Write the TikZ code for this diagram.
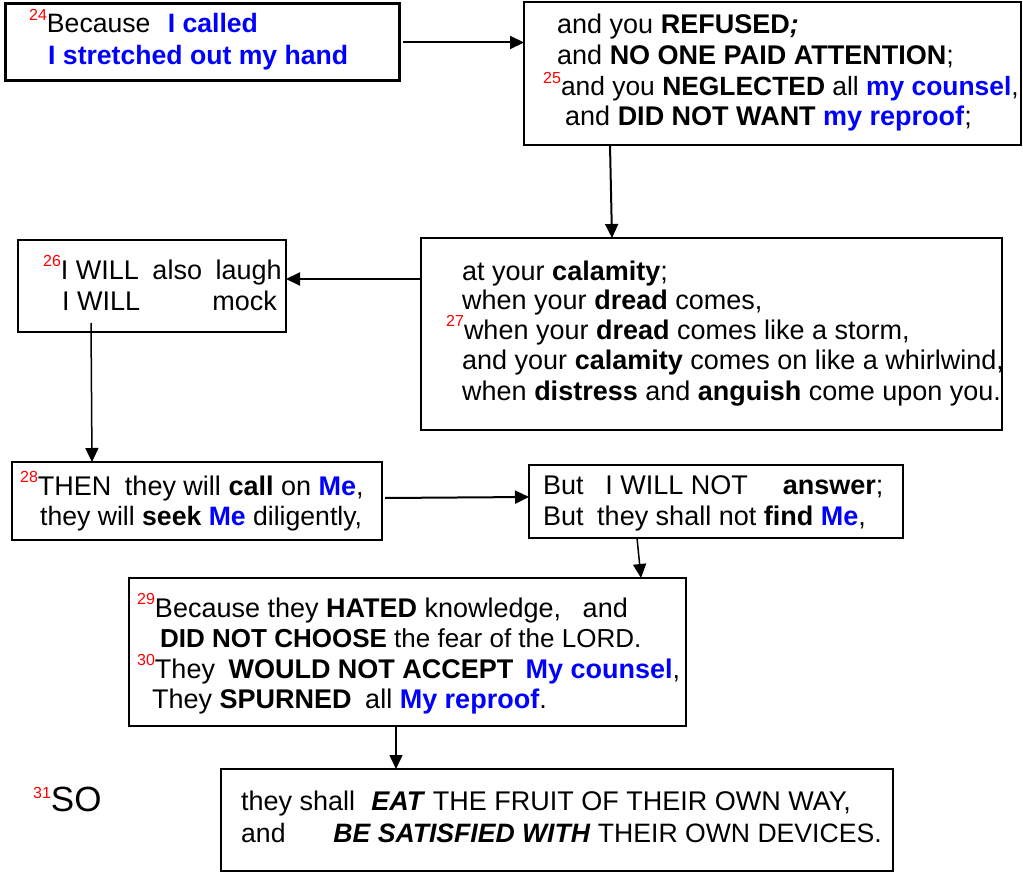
\documentclass[tikz,border=0pt]{standalone}
\usepackage{fontspec}
\setmainfont{Liberation Sans}
\usetikzlibrary{arrows.meta}
\definecolor{vblue}{RGB}{0,0,255}
\definecolor{vred}{RGB}{255,0,0}
\newcommand{\vn}[1]{{\color{vred}\raisebox{0.48em}{\fontsize{16}{16}\selectfont #1}}}
\newcommand{\bl}[1]{{\color{vblue}\bfseries #1}}
\newcommand{\fs}[1]{\fontsize{#1}{31}\selectfont}
\tikzset{
  box/.style={draw=black, line width=2pt, fill=white, inner sep=0pt, outer sep=0pt},
  txt/.style={anchor=base west, inner sep=0pt, font=\fontsize{27}{31}\selectfont},
  arr/.style={line width=2pt, -{Triangle[length=14pt,width=13pt]}}
}
\begin{document}
\begin{tikzpicture}[x=1pt,y=-1pt]
\useasboundingbox (0,0) rectangle (1023,872);
% boxes
\node[box, line width=3pt, minimum width=394, minimum height=77] (b1) at (202,42.5) {};
\node[box, minimum width=497, minimum height=143] (b2) at (772.5,73.5) {};
\node[box, minimum width=581, minimum height=192] (b3) at (711.5,334) {};
\node[box, minimum width=268, minimum height=92] (b4) at (152,286) {};
\node[box, minimum width=370, minimum height=78] (b5) at (197,501) {};
\node[box, minimum width=374, minimum height=73] (b6) at (716,501.5) {};
\node[box, minimum width=557, minimum height=148] (b7) at (407.5,652) {};
\node[box, minimum width=672, minimum height=102] (b8) at (557,820) {};
% box 1
\node[txt] (l1a) at (29,33) {\vn{24}\fs{26.6}Because\hspace{0.65em}\bl{I called}};
\node[txt] (l1b) at (48,65) {\fs{26.6}\bl{I stretched out my hand}};
% box 2
\node[txt] (l2a) at (557,34) {and you \textbf{REFUSED\textit{;}}};
\node[txt] (l2b) at (557,65) {and \textbf{NO ONE PAID ATTENTION};};
\node[txt] (l2c) at (543,96) {\vn{25}\fs{26.4}and you \textbf{NEGLECTED} all \bl{my counsel},};
\node[txt] (l2d) at (565,126) {and \textbf{DID NOT WANT} \bl{my reproof};};
% box 3
\node[txt] (l3a) at (462,280) {at your \textbf{calamity};};
\node[txt] (l3b) at (462,309) {when your \textbf{dread} comes,};
\node[txt] (l3c) at (446,339) {\vn{27}when your \textbf{dread} comes like a storm,};
\node[txt] (l3d) at (462,369) {and your \textbf{calamity} comes on like a whirlwind,};
\node[txt] (l3e) at (462,400) {when \textbf{distress} and \textbf{anguish} come upon you.};
% box 4
\node[txt] (l4a) at (43,279) {\vn{26}I WILL\hspace{0.5em}also\hspace{0.5em}laugh};
\node[txt] (l4b) at (62,310) {I WILL};
\node[txt, anchor=base east] (l4c) at (277,310) {mock};
% box 5
\node[txt] (l5a) at (20,495) {\vn{28}THEN\hspace{0.5em}they will \textbf{call} on \bl{Me},};
\node[txt] (l5b) at (40,525) {\fs{26.6}they will \textbf{seek} \bl{Me} diligently,};
% box 6
\node[txt] (l6a) at (543,494) {But\hspace{0.8em}I WILL NOT\hspace{1.3em}\textbf{answer};};
\node[txt] (l6b) at (543,525) {But\hspace{0.5em}they shall not \textbf{find} \bl{Me},};
% box 7
\node[txt] (l7a) at (137,617) {\vn{29}Because they \textbf{HATED} knowledge,\hspace{0.8em}and};
\node[txt] (l7b) at (160,647) {\fs{26}\textbf{DID NOT CHOOSE} the fear of the LORD.};
\node[txt] (l7c) at (137,678) {\vn{30}They\hspace{0.5em}\textbf{WOULD NOT ACCEPT}\hspace{0.45em}\bl{My counsel},};
\node[txt] (l7d) at (152,708) {They \textbf{SPURNED}\hspace{0.5em}all \bl{My reproof}.};
% box 8
\node[txt] (l8a) at (241,810) {they shall\hspace{0.6em}\textbf{\textit{EAT}} THE FRUIT OF THEIR OWN WAY,};
\node[txt] (l8b) at (241,842) {\fs{26.6}and\hspace{1.8em}\textbf{\textit{BE SATISFIED WITH}} THEIR OWN DEVICES.};
% verse 31
\node[txt] (so) at (33,811) {\vn{31}\fontsize{35}{40}\selectfont SO};
% connectors
\draw[arr] ([xshift=4pt]b1.east) -- (b1.east -| b2.west);
\draw[arr] ([xshift=86pt]b2.south west) -- ([xshift=191pt]b3.north west);
\draw[arr] ([yshift=-41pt]b3.north west) -- ([yshift=-39pt]b4.north east);
\draw[arr, line width=1.5pt] ([xshift=73pt,yshift=9pt]b4.south west) -- ([xshift=80pt]b5.north west);
\draw[arr] ([xshift=3pt,yshift=3pt]b5.east) -- ([yshift=4.5pt]b6.west);
\draw[arr, line width=1.5pt] ([xshift=108pt]b6.south west) -- ([xshift=512pt]b7.north west);
\draw[arr, line width=1.5pt] ([xshift=267pt]b7.south west) -- ([xshift=175pt]b8.north west);
\end{tikzpicture}
\end{document}
